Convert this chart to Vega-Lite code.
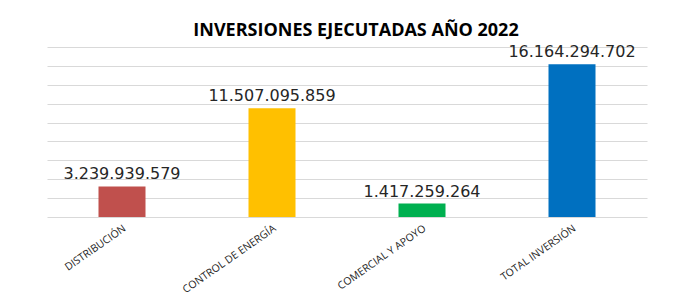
{
  "$schema": "https://vega.github.io/schema/vega-lite/v6.json",
  "autosize": "none",
  "width": 600,
  "height": 170,
  "padding": {"left": 47, "top": 47, "right": 46, "bottom": 90},
  "background": "white",
  "title": {
    "text": "INVERSIONES EJECUTADAS AÑO 2022",
    "font": "Open Sans",
    "fontSize": 18,
    "fontWeight": "bold",
    "color": "#000000",
    "anchor": "middle",
    "dx": 9,
    "offset": 4
  },
  "data": {
    "values": [
      {"categoria": "DISTRIBUCIÓN", "valor": 3239939579, "etiqueta": "3.239.939.579", "color": "#C0504D"},
      {"categoria": "CONTROL DE ENERGÍA", "valor": 11507095859, "etiqueta": "11.507.095.859", "color": "#FFC000"},
      {"categoria": "COMERCIAL Y APOYO", "valor": 1417259264, "etiqueta": "1.417.259.264", "color": "#00B050"},
      {"categoria": "TOTAL INVERSIÓN", "valor": 16164294702, "etiqueta": "16.164.294.702", "color": "#0070C0"}
    ]
  },
  "encoding": {
    "x": {
      "field": "categoria",
      "type": "nominal",
      "sort": null,
      "scale": {"paddingInner": 0, "paddingOuter": 0},
      "axis": {
        "title": null,
        "labelAngle": -35,
        "domain": false,
        "ticks": false,
        "labelFont": "Open Sans",
        "labelFontSize": 10.5,
        "labelColor": "#262626",
        "labelPadding": 6
      }
    },
    "y": {
      "field": "valor",
      "type": "quantitative",
      "scale": {"domain": [0, 18000000000], "nice": false},
      "axis": {
        "title": null,
        "labels": false,
        "ticks": false,
        "domain": false,
        "values": [0, 2000000000, 4000000000, 6000000000, 8000000000, 10000000000, 12000000000, 14000000000, 16000000000, 18000000000],
        "gridColor": "#d9d9d9",
        "gridWidth": 1
      }
    }
  },
  "layer": [
    {
      "mark": {"type": "bar", "size": 47},
      "encoding": {
        "color": {"field": "color", "type": "nominal", "scale": null}
      }
    },
    {
      "mark": {"type": "text", "dy": -7, "baseline": "alphabetic", "font": "DejaVu Sans", "fontSize": 16, "color": "#262626"},
      "encoding": {
        "text": {"field": "etiqueta", "type": "nominal"}
      }
    }
  ],
  "config": {"view": {"stroke": null}}
}
